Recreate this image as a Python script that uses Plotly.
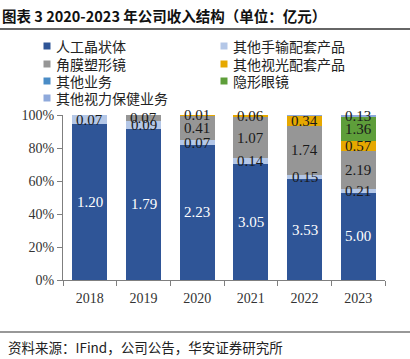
import plotly.graph_objects as go

W, H = 410, 359
ML, MR, MT, MB = 63, 25, 115, 79
PW, PH = W - ML - MR, H - MT - MB

def px_x(px):
    return (px - ML) / PW

def px_y(py):
    return (H - MB - py) / PH

years = ["2018", "2019", "2020", "2021", "2022", "2023"]

names = ["人工晶状体", "其他手输配套产品", "角膜塑形镜", "其他视光配套产品",
         "隐形眼镜", "其他业务", "其他视力保健业务"]
iol = [1.20, 1.79, 2.23, 3.05, 3.53, 5.00]
surg = [0.07, 0.09, 0.07, 0.14, 0.15, 0.21]
ortho = [0.00, 0.07, 0.41, 1.07, 1.74, 2.19]
optom = [0.00, 0.00, 0.01, 0.06, 0.34, 0.57]
contact = [0.00, 0.00, 0.00, 0.00, 0.00, 1.36]
other_biz = [0.00, 0.00, 0.00, 0.00, 0.00, 0.00]
other_care = [0.00, 0.00, 0.00, 0.00, 0.03, 0.13]
series = [iol, surg, ortho, optom, contact, other_biz, other_care]
shown = [
    [True] * 6,
    [True] * 6,
    [False, True, True, True, True, True],
    [False, False, True, True, True, True],
    [False, False, False, False, False, True],
    [False] * 6,
    [False, False, False, False, False, True],
]
colors = ["#2F5597", "#B4C7E7", "#969696", "#E6A800", "#5E9E3A", "#4A8CC6", "#8EA9DB"]
text_colors = ["white", "#1a1a1a", "#1a1a1a", "#1a1a1a", "#1a1a1a", "#1a1a1a", "#1a1a1a"]
# legend order (row by row, two columns) as indices into names
legend_order = [0, 1, 2, 3, 5, 4, 6]
y_ticks = [0, 20, 40, 60, 80, 100]
y_labels = ["0%", "20%", "40%", "60%", "80%", "100%"]

fig = go.Figure()
for name, vals, col in zip(names, series, colors):
    fig.add_trace(go.Bar(
        x=years, y=vals, name=name, showlegend=False,
        marker=dict(color=col, line=dict(width=0)),
    ))

# value labels centred in each segment (position in percent of the bar total)
totals = [sum(s[i] for s in series) for i in range(len(years))]
for i in range(len(years)):
    base = 0.0
    for vals, sh, tc in zip(series, shown, text_colors):
        v = vals[i]
        if sh[i]:
            fig.add_annotation(
                x=i, y=(base + v / 2) / totals[i] * 100, xref="x", yref="y",
                text=f"{v:.2f}", showarrow=False, yanchor="middle",
                font=dict(family="Liberation Serif", size=15, color=tc),
            )
        base += v

fig.update_layout(
    width=W, height=H,
    margin=dict(l=ML, r=MR, t=MT, b=MB),
    barmode="stack", barnorm="percent", bargap=0.35,
    paper_bgcolor="white", plot_bgcolor="white",
    showlegend=False,
    font=dict(family="Liberation Serif", size=13, color="#333"),
)
fig.update_yaxes(
    range=[0, 100], tickmode="array", tickvals=y_ticks, ticktext=y_labels,
    showgrid=False, zeroline=False, showline=True, linecolor="#7f7f7f", linewidth=1,
    ticks="outside", ticklen=5, tickcolor="#7f7f7f", automargin=False,
    tickfont=dict(family="Liberation Serif", size=14, color="#333"),
)
fig.update_xaxes(
    type="category", categoryorder="array", categoryarray=years,
    range=[-0.5, len(years) - 0.5],
    showgrid=False, showline=True, linecolor="#7f7f7f", linewidth=1,
    ticks="outside", ticklen=5, tickcolor="#7f7f7f", tickson="boundaries", automargin=False,
    ticklabelstandoff=5,
    tickfont=dict(family="Liberation Serif", size=14, color="#333"),
)

# legend drawn as two columns of swatches and labels
col_x = [47, 224]
row_y = [46, 64, 81, 98]
for k, idx in enumerate(legend_order):
    cx, cy = col_x[k % 2], row_y[k // 2]
    fig.add_shape(type="rect", xref="paper", yref="paper",
                  x0=px_x(cx - 3.5), x1=px_x(cx + 3.5), y0=px_y(cy + 3.5), y1=px_y(cy - 3.5),
                  fillcolor=colors[idx], line=dict(width=0))
    fig.add_annotation(text=names[idx], xref="paper", yref="paper",
                       x=px_x(cx + 7), y=px_y(cy), xanchor="left", yanchor="middle",
                       showarrow=False,
                       font=dict(family="Noto Sans CJK SC", size=14, color="#222"))

fig.add_annotation(
    text="<b>图表 3 2020-2023 年公司收入结构（单位：亿元）</b>",
    xref="paper", yref="paper", x=px_x(0), y=px_y(16), xanchor="left", yanchor="middle",
    showarrow=False, font=dict(family="Noto Sans CJK SC", size=14.5, color="#111"),
)
fig.add_annotation(
    text="资料来源：IFind，公司公告，华安证券研究所",
    xref="paper", yref="paper", x=px_x(6), y=px_y(347), xanchor="left", yanchor="middle",
    showarrow=False, font=dict(family="Noto Sans CJK SC", size=13.5, color="#222"),
)
fig.add_shape(type="line", xref="paper", yref="paper",
              x0=px_x(0), x1=px_x(W), y0=px_y(29), y1=px_y(29),
              line=dict(color="#333", width=1.5))
fig.add_shape(type="line", xref="paper", yref="paper",
              x0=px_x(0), x1=px_x(W), y0=px_y(332), y1=px_y(332),
              line=dict(color="#333", width=1.2))

fig.write_html("out.html", config={"displayModeBar": False},
               post_script="document.body.style.margin='0';")
